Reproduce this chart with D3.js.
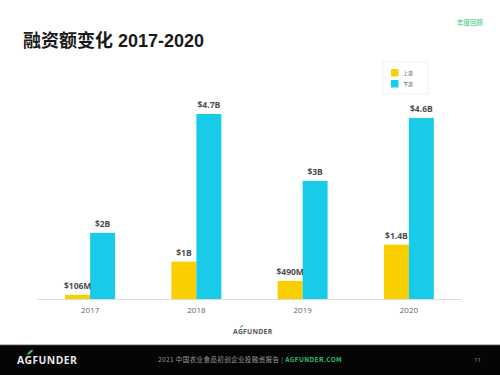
<!DOCTYPE html>
<html>
<head>
<meta charset="utf-8">
<script src="https://cdn.jsdelivr.net/npm/d3@7"></script>
<style>
  body { margin: 0; background: #fff; }
  svg { display: block; }
</style>
</head>
<body>
<svg id="graph"></svg>
<script>
var width = 500, height = 375;

// data (billions USD)
var years = ["2017", "2018", "2019", "2020"];
var groups = ["上游", "下游"];
var upstream = [0.106, 0.95, 0.46, 1.38];
var downstream = [1.68, 4.7, 3.0, 4.6];
var upLabels = ["$106M", "$1B", "$490M", "$1.4B"];
var downLabels = ["$2B", "$4.7B", "$3B", "$4.6B"];
var colors = ["#f9cf00", "#17cbe9"];

var svg = d3.select("#graph")
    .attr("width", width)
    .attr("height", height);

svg.append("rect").attr("width", width).attr("height", height).attr("fill", "#fff");

// header
svg.append("text")
    .attr("x", 23).attr("y", 47)
    .attr("font-family", "'Liberation Sans', 'Noto Sans CJK SC', sans-serif")
    .attr("font-size", "18px")
    .attr("font-weight", "bold")
    .attr("fill", "#1a1a1a")
    .text("融资额变化 2017-2020");

svg.append("text")
    .attr("x", 483).attr("y", 25)
    .attr("text-anchor", "end")
    .attr("font-family", "'Noto Sans CJK SC', sans-serif")
    .attr("font-size", "6.5px")
    .attr("fill", "#2fc36f")
    .text("年度回顾");

// scales
var x = d3.scaleBand()
    .domain(years)
    .range([37, 462])
    .paddingInner(0.53)
    .paddingOuter(0.265);

var xSub = d3.scaleBand()
    .domain(groups)
    .range([0, x.bandwidth()]);

var y = d3.scaleLinear()
    .domain([0, 4.7])
    .range([299, 114]);

var rows = years.map(function (yr, i) {
    return [
        { year: yr, g: groups[0], v: upstream[i], label: upLabels[i], c: colors[0] },
        { year: yr, g: groups[1], v: downstream[i], label: downLabels[i], c: colors[1] }
    ];
});

// axis
var xAxis = svg.append("g")
    .attr("transform", "translate(0,299)")
    .call(d3.axisBottom(x).tickSize(0).tickPadding(8).tickSizeOuter(0));
xAxis.select(".domain").attr("stroke", "#dcdcdc").attr("stroke-width", 1)
    .attr("d", "M37,0.5H462");
xAxis.selectAll("text")
    .attr("font-family", "'Open Sans', sans-serif")
    .attr("font-size", "8px")
    .attr("fill", "#666");

var grp = svg.selectAll(".yr")
    .data(rows)
    .enter().append("g")
    .attr("class", "yr")
    .attr("transform", function (d, i) { return "translate(" + x(years[i]) + ",0)"; });

grp.selectAll("rect")
    .data(function (d) { return d; })
    .enter().append("rect")
    .attr("x", function (d) { return xSub(d.g); })
    .attr("width", xSub.bandwidth())
    .attr("y", function (d) { return y(d.v); })
    .attr("height", function (d) { return y(0) - y(d.v); })
    .attr("fill", function (d) { return d.c; });

grp.selectAll(".val")
    .data(function (d) { return d; })
    .enter().append("text")
    .attr("class", "val")
    .attr("x", function (d) { return xSub(d.g) + xSub.bandwidth() / 2; })
    .attr("y", function (d) { return y(d.v) - 6; })
    .attr("text-anchor", "middle")
    .attr("font-family", "'Open Sans', sans-serif")
    .attr("font-size", "8.5px")
    .attr("font-weight", "bold")
    .attr("fill", "#4d4d4d")
    .text(function (d) { return d.label; });

// legend
var lg = svg.append("g").attr("transform", "translate(383,62)");
lg.append("rect")
    .attr("width", 45).attr("height", 32)
    .attr("fill", "#fff")
    .attr("stroke", "#ececec").attr("stroke-width", 0.8);
groups.forEach(function (g, i) {
    lg.append("rect")
        .attr("x", 8).attr("y", 7 + i * 11)
        .attr("width", 7.5).attr("height", 7.5)
        .attr("fill", colors[i]);
    lg.append("text")
        .attr("x", 20).attr("y", 13 + i * 11)
        .attr("font-family", "'Noto Sans CJK SC', sans-serif")
        .attr("font-size", "5px")
        .attr("fill", "#555")
        .text(g);
});

// logo
function logo(g, fill) {
    g.append("text")
        .attr("font-family", "'Open Sans', sans-serif")
        .attr("font-weight", "bold")
        .attr("font-size", "8px")
        .attr("fill", fill)
        .attr("letter-spacing", "0.3px")
        .text("AGFUNDER");
    g.append("path")
        .attr("d", "M7.5,-7 q2,-4 5,-4 q-1,3 -5,4 z")
        .attr("fill", "#4cc35a");
}
var logoMid = svg.append("g").attr("transform", "translate(233,334) scale(0.85)");
logo(logoMid, "#555");

// footer
svg.append("rect")
    .attr("x", 0).attr("y", 345)
    .attr("width", width).attr("height", 30)
    .attr("fill", "#050505");
svg.append("line")
    .attr("x1", 0).attr("x2", width).attr("y1", 345).attr("y2", 345)
    .attr("stroke", "#555").attr("stroke-width", 0.8);

var logoFoot = svg.append("g").attr("transform", "translate(17,364) scale(1.3)");
logo(logoFoot, "#e6e6e6");

var ft = svg.append("text")
    .attr("x", 250).attr("y", 362)
    .attr("text-anchor", "middle")
    .attr("font-family", "'Noto Sans CJK SC', sans-serif")
    .attr("font-size", "6.5px")
    .attr("letter-spacing", "0.4px")
    .attr("fill", "#9a9a9a");
ft.append("tspan").text("2021 中国农业食品初创企业投融资报告  |  ");
ft.append("tspan").attr("fill", "#2fc36f").attr("font-weight", "bold").text("AGFUNDER.COM");

svg.append("text")
    .attr("x", 481).attr("y", 362)
    .attr("text-anchor", "end")
    .attr("font-family", "'Open Sans', sans-serif")
    .attr("font-size", "6px")
    .attr("fill", "#9a9a9a")
    .text("11");
</script>
</body>
</html>
